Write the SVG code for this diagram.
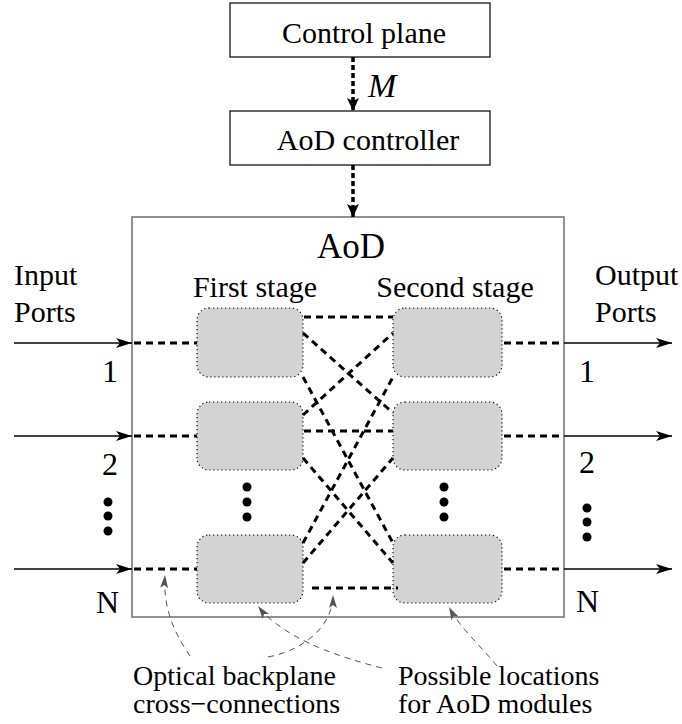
<svg xmlns="http://www.w3.org/2000/svg" width="682" height="724" viewBox="0 0 682 724">
<style>
text{font-family:"Liberation Serif","Times New Roman",serif;fill:#000}
.t30{font-size:30px}
.t28{font-size:28px}
.num{font-size:32px}
.box{fill:#fff;stroke:#000;stroke-width:1.2}
.main{fill:#fff;stroke:#777;stroke-width:1.6}
.mod{fill:#d3d3d3;stroke:#000;stroke-width:1.1;stroke-dasharray:1.2 2.8}
.port{stroke:#000;stroke-width:1.4;fill:none}
.dash{stroke:#000;stroke-width:3;stroke-dasharray:7 5;fill:none}
.ctl{stroke:#000;stroke-width:3.5;stroke-dasharray:5 3;fill:none}
.ann{stroke:#555;stroke-width:1;stroke-dasharray:6 5;fill:none}
</style>
<defs>
<marker id="stealth" viewBox="0 0 16 10" refX="16" refY="5" markerWidth="16" markerHeight="10" markerUnits="userSpaceOnUse" orient="auto">
<path d="M0,0 L16,5 L0,10 L4,5 Z" fill="#000"/>
</marker>
<marker id="big" viewBox="0 0 13 12" refX="13" refY="6" markerWidth="13" markerHeight="12" markerUnits="userSpaceOnUse" orient="auto">
<path d="M0,0 L13,6 L0,12 L3,6 Z" fill="#000"/>
</marker>
<marker id="gray" viewBox="0 0 13 8" refX="13" refY="4" markerWidth="13" markerHeight="8" markerUnits="userSpaceOnUse" orient="auto">
<path d="M0,0 L13,4 L0,8 L3,4 Z" fill="#555"/>
</marker>
</defs>

<g id="control-plane">
<rect class="box" x="230" y="3" width="260" height="54"/>
<text class="t30" x="364" y="43" text-anchor="middle">Control plane</text>
</g>
<g id="aod-controller">
<rect class="box" x="230" y="111" width="260" height="54"/>
<text class="t30" x="368" y="150" text-anchor="middle">AoD controller</text>
</g>
<g id="aod">
<rect class="main" x="132" y="217" width="432" height="400"/>
<text x="351" y="258" text-anchor="middle" font-size="35">AoD</text>
<text class="t30" x="255" y="297" text-anchor="middle">First stage</text>
<text class="t30" x="455" y="297" text-anchor="middle">Second stage</text>
</g>

<g id="first-stage-1"><rect class="mod" x="197" y="308" width="106" height="69" rx="12"/></g>
<g id="first-stage-2"><rect class="mod" x="197" y="402" width="106" height="68" rx="12"/></g>
<g id="first-stage-N"><rect class="mod" x="197" y="535" width="106" height="68" rx="12"/></g>
<g id="second-stage-1"><rect class="mod" x="393" y="308" width="109" height="69" rx="12"/></g>
<g id="second-stage-2"><rect class="mod" x="393" y="402" width="109" height="68" rx="12"/></g>
<g id="second-stage-N"><rect class="mod" x="393" y="535" width="109" height="68" rx="12"/></g>

<g id="connectors">
<line class="ctl" x1="353" y1="57" x2="353" y2="111" marker-end="url(#big)"/>
<line class="ctl" x1="353" y1="165" x2="353" y2="217" marker-end="url(#big)"/>
<line class="port" x1="14" y1="343" x2="132" y2="343" marker-end="url(#stealth)"/>
<line class="port" x1="14" y1="436" x2="132" y2="436" marker-end="url(#stealth)"/>
<line class="port" x1="14" y1="569" x2="132" y2="569" marker-end="url(#stealth)"/>
<line class="port" x1="564" y1="343" x2="672" y2="343" marker-end="url(#stealth)"/>
<line class="port" x1="564" y1="436" x2="672" y2="436" marker-end="url(#stealth)"/>
<line class="port" x1="564" y1="569" x2="672" y2="569" marker-end="url(#stealth)"/>
<line class="dash" x1="134" y1="343" x2="197" y2="343"/>
<line class="dash" x1="134" y1="436" x2="197" y2="436"/>
<line class="dash" x1="134" y1="569" x2="197" y2="569"/>
<line class="dash" x1="504" y1="343" x2="564" y2="343"/>
<line class="dash" x1="504" y1="436" x2="564" y2="436"/>
<line class="dash" x1="504" y1="569" x2="564" y2="569"/>
<line class="dash" x1="304" y1="317" x2="393" y2="317"/>
<line class="dash" x1="304" y1="431" x2="393" y2="431"/>
<line class="dash" x1="312" y1="588" x2="398" y2="588"/>
<line class="dash" x1="303" y1="333" x2="393" y2="413"/>
<line class="dash" x1="303" y1="415" x2="393" y2="333"/>
<line class="dash" x1="303" y1="377" x2="393" y2="543"/>
<line class="dash" x1="303" y1="543" x2="393" y2="377"/>
<line class="dash" x1="303" y1="458" x2="393" y2="563"/>
<line class="dash" x1="303" y1="563" x2="393" y2="458"/>
<path class="ann" d="M190,656 C172,630 163,605 165,575" marker-end="url(#gray)"/>
<path class="ann" d="M268,657 C305,650 333,625 333,595" marker-end="url(#gray)"/>
<path class="ann" d="M382,668 C330,655 280,635 258,606" marker-end="url(#gray)"/>
<path class="ann" d="M497,666 C480,645 460,628 449,607" marker-end="url(#gray)"/>
</g>

<g id="labels">
<text x="368" y="97" font-size="34" font-style="italic">M</text>
<text class="t30" x="14" y="285">Input</text>
<text class="t30" x="14" y="322">Ports</text>
<text class="t30" x="595" y="285">Output</text>
<text class="t30" x="595" y="322">Ports</text>
<text class="num" x="118" y="382" text-anchor="end">1</text>
<text class="num" x="118" y="475" text-anchor="end">2</text>
<text class="num" x="119" y="613" text-anchor="end">N</text>
<text class="num" x="579" y="382">1</text>
<text class="num" x="579" y="473">2</text>
<text class="num" x="576" y="612">N</text>
<text class="t28" x="133" y="685">Optical backplane</text>
<text class="t28" x="133" y="713">cross−connections</text>
<text class="t28" x="398" y="685">Possible locations</text>
<text class="t28" x="398" y="713">for AoD modules</text>
</g>

<g id="ellipses" fill="#000">
<circle cx="108" cy="502" r="4.5"/><circle cx="108" cy="516" r="4.5"/><circle cx="108" cy="531" r="4.5"/>
<circle cx="247" cy="487" r="4.5"/><circle cx="247" cy="502" r="4.5"/><circle cx="247" cy="517" r="4.5"/>
<circle cx="444" cy="487" r="4.5"/><circle cx="444" cy="502" r="4.5"/><circle cx="444" cy="517" r="4.5"/>
<circle cx="587" cy="508" r="4.5"/><circle cx="587" cy="522" r="4.5"/><circle cx="587" cy="537" r="4.5"/>
</g>
</svg>
